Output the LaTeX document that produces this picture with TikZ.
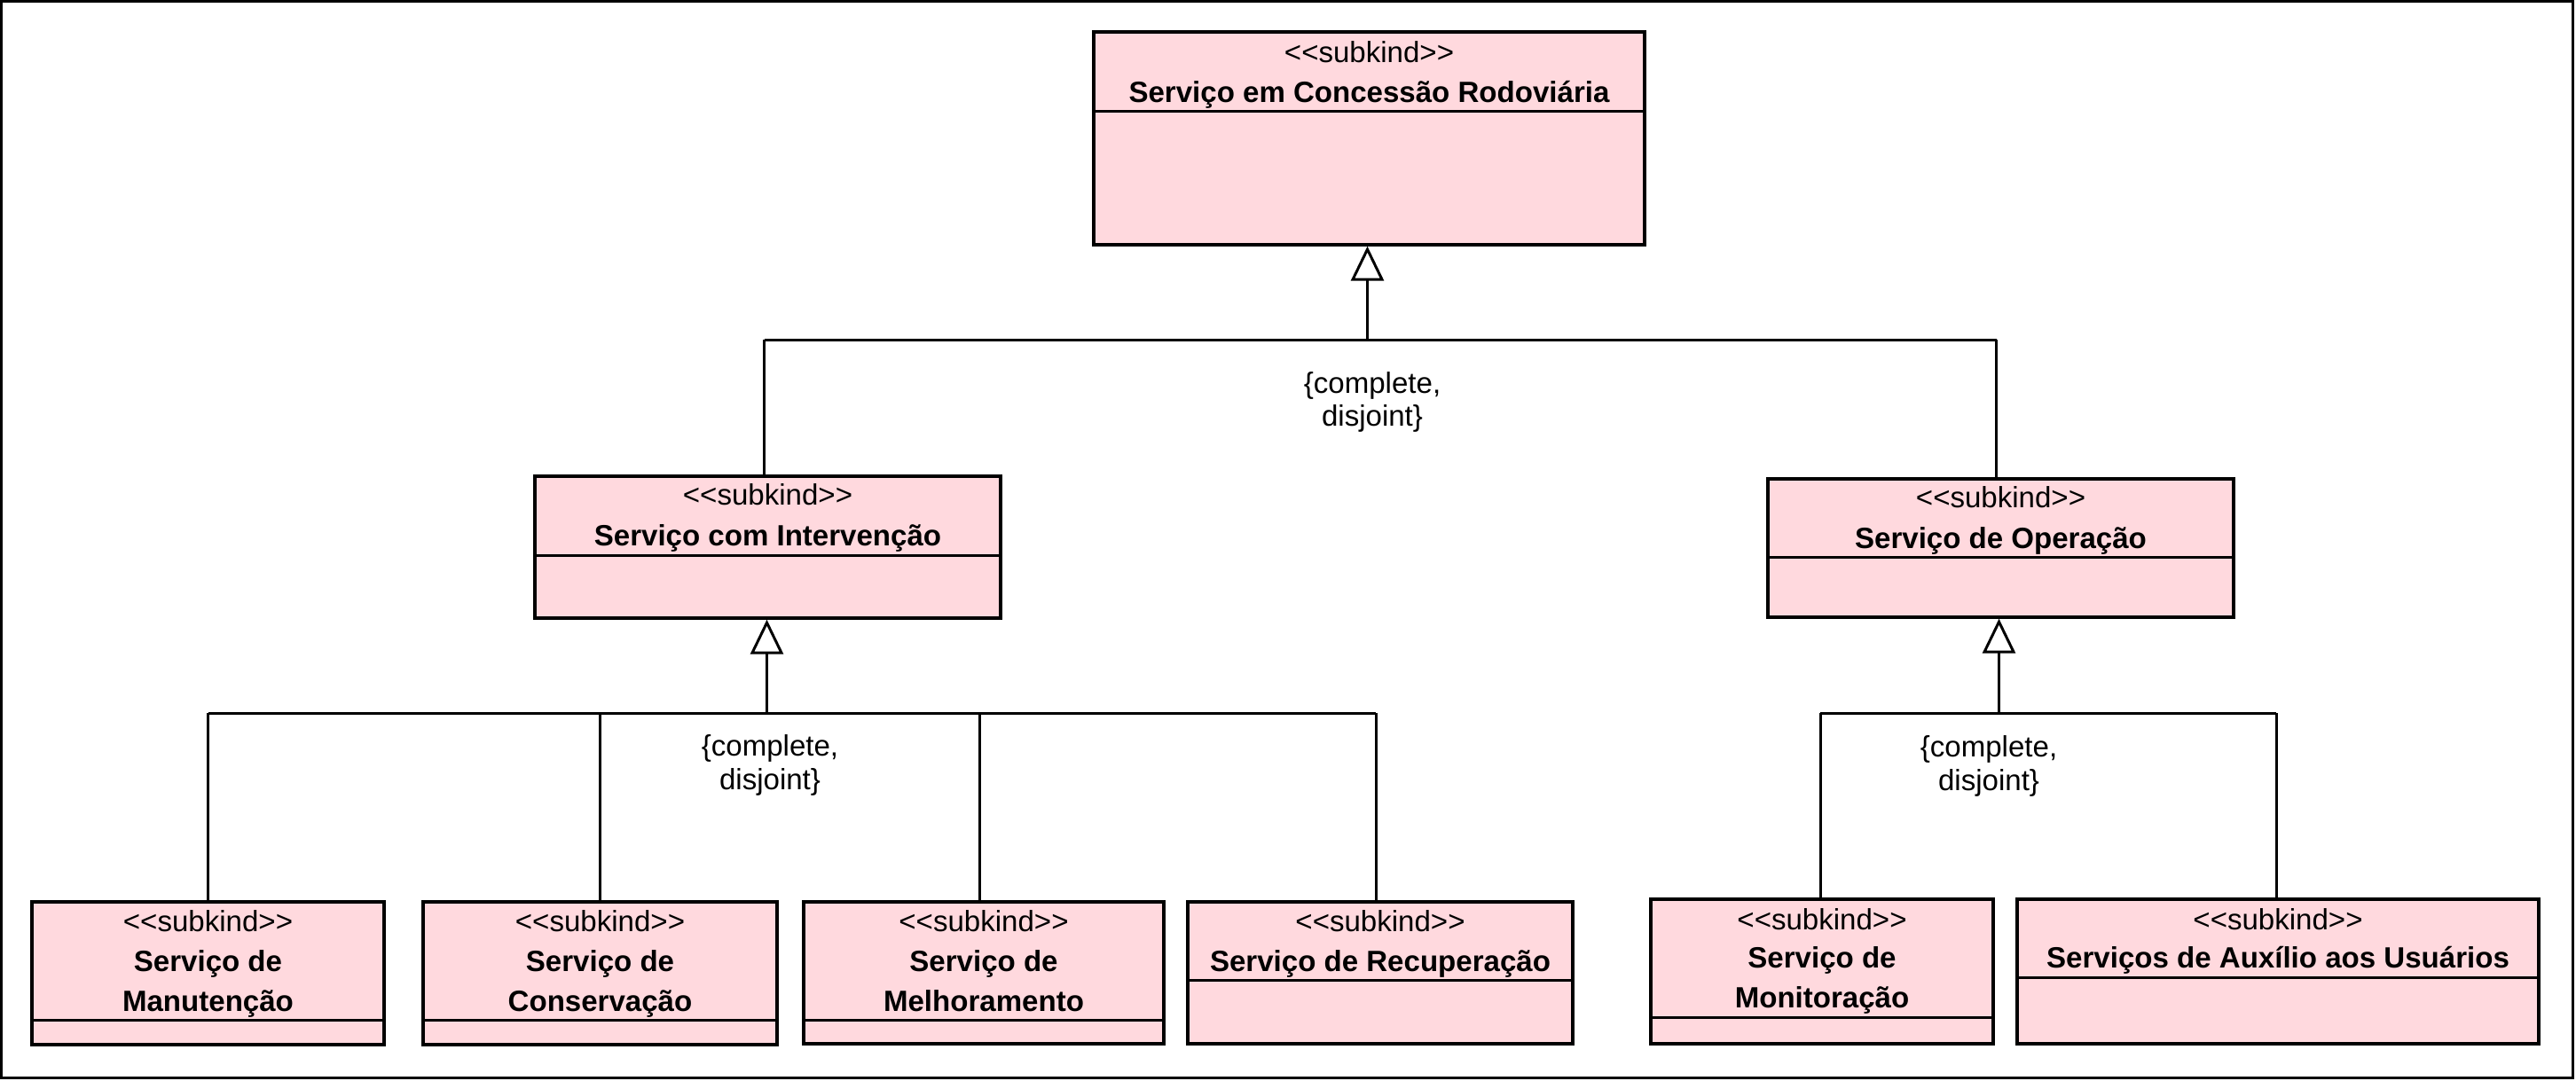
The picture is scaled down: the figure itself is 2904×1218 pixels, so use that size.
\documentclass[tikz,border=0pt]{standalone}
\usepackage{fontspec}
\newfontfamily\vpfont{Liberation Sans}
\usetikzlibrary{arrows.meta,fit,calc}
\definecolor{vppink}{RGB}{255,217,222}
\begin{document}
\begin{tikzpicture}[x=0.01cm,y=-0.01cm,
  umlbox/.style={draw=black,fill=vppink,line width=0.95pt,inner sep=0pt,rectangle},
  stereo/.style={font=\vpfont\fontsize{9.4}{11}\selectfont,anchor=base,inner sep=0pt},
  cname/.style={font=\vpfont\bfseries\fontsize{9.4}{11}\selectfont,anchor=base,inner sep=0pt},
  gsetlbl/.style={font=\vpfont\fontsize{9.4}{11}\selectfont,anchor=base,inner sep=0pt},
  conn/.style={line width=0.85pt},
  gen/.style={conn,-{Triangle[open,length=0.39cm,width=0.37cm,line width=0.85pt,fill=white]}},
  divider/.style={line width=0.95pt}]
\useasboundingbox (0,0) rectangle (2904,1218);
\draw[line width=0.9pt] (1.5,1.5) rectangle (2900.5,1215.5);

% boxes
\node[umlbox, fit={(1233,36) (1854,276)}] (top) {};
\node[umlbox, fit={(603,537) (1128,697)}] (inter) {};
\node[umlbox, fit={(1993,540) (2518,696)}] (oper) {};
\node[umlbox, fit={(36,1017) (433,1178)}] (man) {};
\node[umlbox, fit={(477,1017) (876,1178)}] (cons) {};
\node[umlbox, fit={(906,1017) (1312,1177)}] (melh) {};
\node[umlbox, fit={(1339,1017) (1773,1177)}] (recu) {};
\node[umlbox, fit={(1861,1014) (2247,1177)}] (moni) {};
\node[umlbox, fit={(2274,1014) (2862,1177)}] (aux) {};

% dividers
\draw[divider] ($(top.north west)+(0,91)$) -- ($(top.north east)+(0,91)$);
\draw[divider] ($(inter.north west)+(0,91)$) -- ($(inter.north east)+(0,91)$);
\draw[divider] ($(oper.north west)+(0,90)$) -- ($(oper.north east)+(0,90)$);
\draw[divider] ($(man.north west)+(0,135)$) -- ($(man.north east)+(0,135)$);
\draw[divider] ($(cons.north west)+(0,135)$) -- ($(cons.north east)+(0,135)$);
\draw[divider] ($(melh.north west)+(0,135)$) -- ($(melh.north east)+(0,135)$);
\draw[divider] ($(recu.north west)+(0,90)$) -- ($(recu.north east)+(0,90)$);
\draw[divider] ($(moni.north west)+(0,135)$) -- ($(moni.north east)+(0,135)$);
\draw[divider] ($(aux.north west)+(0,90)$) -- ($(aux.north east)+(0,90)$);

% texts
\node[stereo] (topst) at ($(top.north)+(0,36)$) {<<subkind>>};
\node[cname] (topnm) at ($(top.north)+(0,81)$) {Serviço em Concessão Rodoviária};
\node[stereo] (interst) at ($(inter.north)+(0,34)$) {<<subkind>>};
\node[cname] (internm) at ($(inter.north)+(0,80)$) {Serviço com Intervenção};
\node[stereo] (operst) at ($(oper.north)+(0,34)$) {<<subkind>>};
\node[cname] (opernm) at ($(oper.north)+(0,80)$) {Serviço de Operação};
\node[stereo] (manst) at ($(man.north)+(0,35)$) {<<subkind>>};
\node[cname] (mannm1) at ($(man.north)+(0,80)$) {Serviço de};
\node[cname] (mannm2) at ($(man.north)+(0,125)$) {Manutenção};
\node[stereo] (consst) at ($(cons.north)+(0,35)$) {<<subkind>>};
\node[cname] (consnm1) at ($(cons.north)+(0,80)$) {Serviço de};
\node[cname] (consnm2) at ($(cons.north)+(0,125)$) {Conservação};
\node[stereo] (melhst) at ($(melh.north)+(0,35)$) {<<subkind>>};
\node[cname] (melhnm1) at ($(melh.north)+(0,80)$) {Serviço de};
\node[cname] (melhnm2) at ($(melh.north)+(0,125)$) {Melhoramento};
\node[stereo] (recust) at ($(recu.north)+(0,35)$) {<<subkind>>};
\node[cname] (recunm) at ($(recu.north)+(0,80)$) {Serviço de Recuperação};
\node[stereo] (monist) at ($(moni.north)+(0,36)$) {<<subkind>>};
\node[cname] (moninm1) at ($(moni.north)+(0,79)$) {Serviço de};
\node[cname] (moninm2) at ($(moni.north)+(0,124)$) {Monitoração};
\node[stereo] (auxst) at ($(aux.north)+(0,36)$) {<<subkind>>};
\node[cname] (auxnm) at ($(aux.north)+(0,79)$) {Serviços de Auxílio aos Usuários};

% connector attachment points
\coordinate (bus1) at (0,383);
\coordinate (bus2) at (0,804);
\coordinate (topB) at ($(top.south)+(-2,0)$);
\coordinate (interT) at ($(inter.north)+(-4,0)$);
\coordinate (interB) at ($(inter.south)+(-1,0)$);
\coordinate (operT) at ($(oper.north)+(-5,0)$);
\coordinate (operB) at ($(oper.south)+(-2,0)$);
\coordinate (manT) at (man.north);
\coordinate (consT) at (cons.north);
\coordinate (melhT) at ($(melh.north)+(-5,0)$);
\coordinate (recuT) at ($(recu.north)+(-5,0)$);
\coordinate (moniT) at ($(moni.north)+(-2,0)$);
\coordinate (auxT) at ($(aux.north)+(-2,0)$);

% generalization set 1
\draw[gen] (topB |- bus1) -- (topB);
\draw[conn] (interT |- bus1) -- (operT |- bus1);
\draw[conn] (interT |- bus1) -- (interT);
\draw[conn] (operT |- bus1) -- (operT);
\node[gsetlbl] (gs1a) at (1547,443) {\{complete,};
\node[gsetlbl] (gs1b) at (1547,480) {disjoint\}};

% generalization set 2
\draw[gen] (interB |- bus2) -- (interB);
\draw[conn] (manT |- bus2) -- (recuT |- bus2);
\draw[conn] (manT |- bus2) -- (manT);
\draw[conn] (consT |- bus2) -- (consT);
\draw[conn] (melhT |- bus2) -- (melhT);
\draw[conn] (recuT |- bus2) -- (recuT);
\node[gsetlbl] (gs2a) at (868,852) {\{complete,};
\node[gsetlbl] (gs2b) at (868,890) {disjoint\}};

% generalization set 3
\draw[gen] (operB |- bus2) -- (operB);
\draw[conn] (moniT |- bus2) -- (auxT |- bus2);
\draw[conn] (moniT |- bus2) -- (moniT);
\draw[conn] (auxT |- bus2) -- (auxT);
\node[gsetlbl] (gs3a) at (2242,853) {\{complete,};
\node[gsetlbl] (gs3b) at (2242,891) {disjoint\}};
\end{tikzpicture}
\end{document}
